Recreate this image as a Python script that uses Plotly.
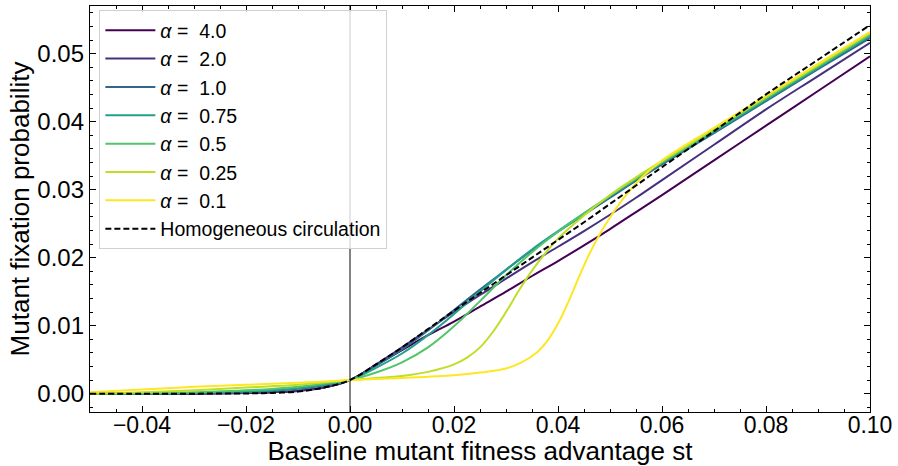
import plotly.graph_objects as go

# ---- data ----
ALPHAS = ["4.0", "2.0", "1.0", "0.75", "0.5", "0.25", "0.1"]
COLORS = ["#440154", "#46307e", "#31678e", "#22a08b", "#52c569", "#bddf26", "#fde725"]

S_GRID = [-0.05, -0.04, -0.03, -0.02, -0.015, -0.01, -0.005, 0.0, 0.005, 0.01, 0.015, 0.02,
          0.025, 0.03, 0.035, 0.04, 0.045, 0.05, 0.055, 0.06, 0.07, 0.08, 0.09, 0.10]

P_A4 = [0, 0, 0, 0.0001, 0.0002, 0.0004, 0.0009, 0.0020, 0.0042, 0.0064, 0.0086, 0.0106,
        0.0128, 0.0150, 0.0173, 0.0195, 0.0218, 0.0242, 0.0267, 0.0292, 0.0343, 0.0394, 0.0445, 0.0496]
P_A2 = [0, 0, 0, 0.0001, 0.0002, 0.0004, 0.0009, 0.0020, 0.0043, 0.0068, 0.0094, 0.0120,
        0.0145, 0.0169, 0.0193, 0.0216, 0.0239, 0.0263, 0.0288, 0.0314, 0.0366, 0.0418, 0.0467, 0.0516]
P_A1 = [0, 0, 0.00005, 0.0002, 0.0004, 0.0007, 0.0012, 0.0020, 0.0041, 0.0065, 0.0093, 0.0123,
        0.0153, 0.0182, 0.0211, 0.0238, 0.0263, 0.0288, 0.0313, 0.0337, 0.0383, 0.0430, 0.0477, 0.0523]
P_A075 = [0, 0, 0.0001, 0.0003, 0.0005, 0.0008, 0.0013, 0.0020, 0.0038, 0.0059, 0.0086, 0.0117,
          0.0150, 0.0182, 0.0212, 0.0239, 0.0265, 0.0290, 0.0315, 0.0339, 0.0385, 0.0432, 0.0479, 0.0526]
P_A05 = [0, 0.0001, 0.0002, 0.0005, 0.0007, 0.0010, 0.0015, 0.0020, 0.0031, 0.0046, 0.0068, 0.0099,
         0.0136, 0.0174, 0.0208, 0.0238, 0.0265, 0.0291, 0.0316, 0.0340, 0.0387, 0.0434, 0.0481, 0.0528]
P_HOMO = [0, 0, 0, 0.00003, 0.0001, 0.0003, 0.0009, 0.0020, 0.0043, 0.0068, 0.0095, 0.0122,
          0.0148, 0.0174, 0.0200, 0.0226, 0.0252, 0.0279, 0.0306, 0.0333, 0.0386, 0.0440, 0.0491, 0.0542]

S_A025 = [-0.05, -0.04, -0.03, -0.02, -0.01, 0.0, 0.005, 0.01, 0.015, 0.02, 0.0225, 0.025, 0.0275,
          0.03, 0.0325, 0.035, 0.0375, 0.04, 0.045, 0.05, 0.055, 0.06, 0.07, 0.08, 0.09, 0.10]
P_A025 = [0, 0.0002, 0.0005, 0.0009, 0.0013, 0.0020, 0.0023, 0.0026, 0.0032, 0.0043, 0.0053, 0.0068,
          0.0091, 0.0120, 0.0152, 0.0181, 0.0206, 0.0228, 0.0262, 0.0292, 0.0318, 0.0342, 0.0389,
          0.0436, 0.0483, 0.0530]

S_A01 = [-0.05, -0.04, -0.03, -0.02, -0.01, 0.0, 0.01, 0.02, 0.025, 0.03, 0.033, 0.036, 0.038,
         0.04, 0.042, 0.044, 0.046, 0.048, 0.05, 0.053, 0.056, 0.06, 0.07, 0.08, 0.09, 0.10]
P_A01 = [0.0002, 0.0006, 0.0010, 0.0013, 0.0016, 0.0020, 0.0023, 0.0027, 0.0031, 0.0037, 0.0046,
         0.0061, 0.0078, 0.0103, 0.0135, 0.0171, 0.0205, 0.0234, 0.0259, 0.0291, 0.0317, 0.0343,
         0.0391, 0.0438, 0.0485, 0.0532]

X_TICKS = [-0.04, -0.02, 0.0, 0.02, 0.04, 0.06, 0.08, 0.10]
Y_TICKS = [0.00, 0.01, 0.02, 0.03, 0.04, 0.05]

series = [
    (S_GRID, P_A4), (S_GRID, P_A2), (S_GRID, P_A1), (S_GRID, P_A075),
    (S_GRID, P_A05), (S_A025, P_A025), (S_A01, P_A01),
]

FONT = "Liberation Sans, Arial, Helvetica, sans-serif"

fig = go.Figure()
for (xs, ys), a, c in zip(series, ALPHAS, COLORS):
    fig.add_trace(go.Scatter(
        x=xs, y=ys, mode="lines", name=f"<i>α</i> = \u00a0{a}",
        line=dict(color=c, width=2, shape="spline", smoothing=1.0),
    ))
fig.add_trace(go.Scatter(
    x=S_GRID, y=P_HOMO, mode="lines", name="Homogeneous circulation",
    line=dict(color="black", width=2, dash="6px,3px", shape="spline", smoothing=1.0),
))

fig.add_shape(type="line", xref="x", yref="paper", x0=0, x1=0, y0=0, y1=1,
              line=dict(color="rgba(0,0,0,0.65)", width=1.5), layer="below")

axis_common = dict(
    showgrid=False, zeroline=False, showline=True, linecolor="black", linewidth=1.3,
    mirror="ticks", ticks="inside", ticklen=6, tickwidth=1.2, tickcolor="black",
    automargin=False,
)

fig.update_xaxes(
    range=[-0.05, 0.10], tickvals=X_TICKS, tickformat=".2f", ticklabelstandoff=-8,
    tickfont=dict(size=23, color="black", family=FONT),
    minor=dict(ticks="inside", dtick=0.005, tick0=0, ticklen=3, tickwidth=1, tickcolor="black"),
    title=dict(text="Baseline mutant fitness advantage st", font=dict(size=26, color="black", family=FONT), standoff=0),
    **axis_common,
)
fig.update_yaxes(
    range=[-0.0027, 0.0570], tickvals=Y_TICKS, tickformat=".2f",
    tickfont=dict(size=24, color="black", family=FONT),
    minor=dict(ticks="inside", dtick=0.002, tick0=0, ticklen=3, tickwidth=1, tickcolor="black"),
    title=dict(text="Mutant fixation probability", font=dict(size=26, color="black", family=FONT), standoff=0),
    **axis_common,
)

fig.update_layout(
    width=898, height=466,
    margin=dict(l=90, r=28, t=6, b=54, autoexpand=False),
    plot_bgcolor="white", paper_bgcolor="white",
    font=dict(family=FONT, color="black"),
    showlegend=True,
    legend=dict(
        x=0.012, y=0.99, xanchor="left", yanchor="top",
        bgcolor="rgba(255,255,255,0.8)", bordercolor="#d0d0d0", borderwidth=1,
        font=dict(size=19.5, color="black", family=FONT),
        itemwidth=50, tracegroupgap=0,
    ),
)

fig.write_html("out.html", post_script="document.body.style.margin='0px';",
               config={"displayModeBar": False})
